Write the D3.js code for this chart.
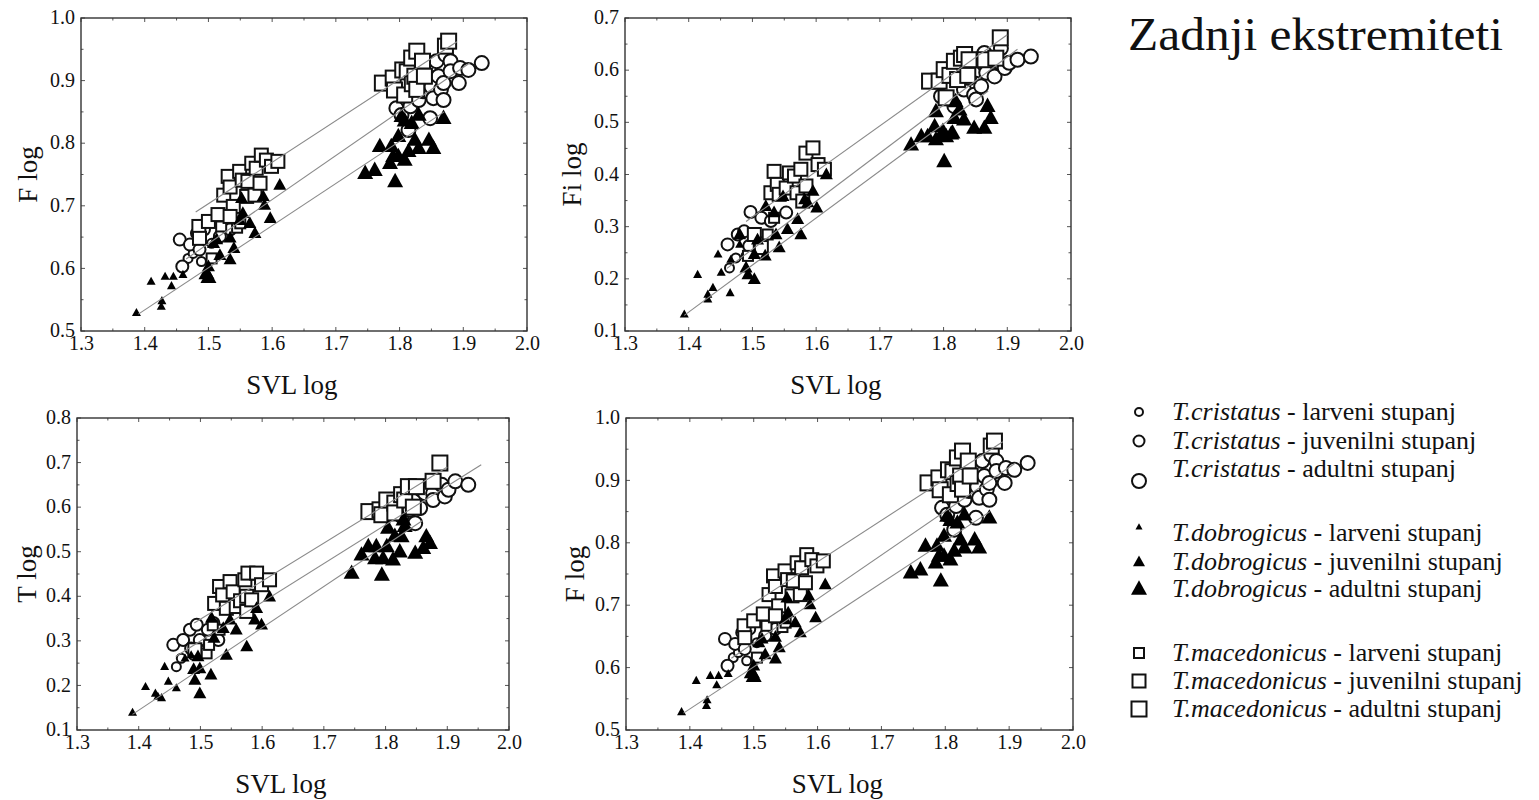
<!DOCTYPE html>
<html><head><meta charset="utf-8">
<script src="https://cdn.jsdelivr.net/npm/d3@7"></script>
<style>body{margin:0;background:#fff} svg{display:block}</style>
</head><body>
<script>
// ---------- DATA ----------
const xTicks = [1.3,1.4,1.5,1.6,1.7,1.8,1.9,2.0];
const F_yTicks = [0.5,0.6,0.7,0.8,0.9,1.0];
const Fi_yTicks = [0.1,0.2,0.3,0.4,0.5,0.6,0.7];
const T_yTicks = [0.1,0.2,0.3,0.4,0.5,0.6,0.7,0.8];

const species = ["T.cristatus","T.dobrogicus","T.macedonicus"];
const stages = ["larveni stupanj","juvenilni stupanj","adultni stupanj"];
const title = "Zadnji ekstremiteti";
const xLabel = "SVL log";

// F log (femur)
const F_cri_lar = [[1.468,0.616],[1.476,0.624],[1.489,0.611],[1.505,0.640]];
const F_cri_juv = [[1.455,0.646],[1.459,0.603],[1.471,0.638],[1.482,0.656],[1.486,0.630],[1.493,0.662],[1.518,0.651],[1.534,0.662],[1.544,0.683]];
const F_cri_adu = [[1.795,0.856],[1.803,0.845],[1.814,0.821],[1.817,0.859],[1.830,0.869],[1.837,0.883],[1.848,0.840],[1.850,0.890],[1.853,0.872],[1.858,0.931],[1.861,0.907],[1.865,0.886],[1.869,0.869],[1.869,0.896],[1.872,0.941],[1.880,0.931],[1.880,0.915],[1.893,0.896],[1.895,0.920],[1.908,0.917],[1.929,0.928]];
const F_dob_lar = [[1.387,0.529],[1.410,0.579],[1.426,0.539],[1.427,0.548],[1.432,0.587],[1.442,0.572],[1.445,0.587],[1.460,0.590]];
const F_dob_juv = [[1.500,0.603],[1.513,0.646],[1.508,0.640],[1.518,0.621],[1.534,0.614],[1.540,0.632],[1.534,0.649],[1.549,0.677],[1.554,0.688],[1.552,0.712],[1.565,0.672],[1.573,0.656],[1.586,0.715],[1.588,0.701],[1.597,0.680],[1.612,0.733]];
const F_dob_adu = [[1.497,0.592],[1.500,0.586],[1.746,0.752],[1.761,0.757],[1.769,0.795],[1.785,0.768],[1.787,0.795],[1.790,0.779],[1.793,0.739],[1.798,0.811],[1.798,0.779],[1.803,0.843],[1.808,0.773],[1.808,0.836],[1.814,0.787],[1.819,0.832],[1.824,0.805],[1.830,0.792],[1.830,0.845],[1.846,0.805],[1.853,0.792],[1.869,0.840]];
const F_mac_lar = [[1.505,0.616],[1.520,0.667],[1.545,0.665],[1.550,0.672]];
const F_mac_juv = [[1.485,0.667],[1.486,0.648],[1.500,0.675],[1.515,0.686],[1.524,0.717],[1.531,0.747],[1.534,0.730],[1.539,0.699],[1.534,0.683],[1.549,0.755],[1.553,0.741],[1.560,0.715],[1.562,0.739],[1.568,0.768],[1.575,0.760],[1.573,0.717],[1.581,0.736],[1.583,0.781],[1.591,0.773],[1.599,0.763],[1.609,0.771]];
const F_mac_adu = [[1.773,0.896],[1.790,0.904],[1.792,0.885],[1.805,0.917],[1.808,0.877],[1.812,0.914],[1.819,0.936],[1.820,0.895],[1.824,0.907],[1.827,0.947],[1.827,0.886],[1.836,0.931],[1.839,0.907],[1.872,0.955],[1.877,0.963]];
// regression lines [x1,y1,x2,y2]
const F_lines = {cri:[1.465,0.615,1.910,0.928], dob:[1.390,0.527,1.870,0.850], mac:[1.480,0.690,1.890,0.962]};

// Fi log (fibula)
const Fi_cri_lar = [[1.474,0.240],[1.490,0.244],[1.464,0.221],[1.500,0.255]];
const Fi_cri_juv = [[1.461,0.266],[1.477,0.285],[1.487,0.291],[1.495,0.263],[1.497,0.328],[1.514,0.317],[1.529,0.311],[1.553,0.327]];
const Fi_cri_adu = [[1.796,0.550],[1.817,0.531],[1.832,0.563],[1.840,0.585],[1.848,0.553],[1.851,0.544],[1.855,0.600],[1.859,0.569],[1.864,0.633],[1.864,0.611],[1.867,0.595],[1.880,0.588],[1.883,0.617],[1.890,0.642],[1.896,0.604],[1.903,0.614],[1.916,0.620],[1.937,0.626]];
const Fi_dob_lar = [[1.393,0.132],[1.414,0.208],[1.430,0.170],[1.430,0.161],[1.438,0.183],[1.446,0.247],[1.451,0.212],[1.465,0.173],[1.466,0.237],[1.480,0.266]];
const Fi_dob_juv = [[1.480,0.285],[1.490,0.221],[1.493,0.208],[1.503,0.199],[1.503,0.247],[1.508,0.275],[1.520,0.244],[1.521,0.339],[1.534,0.327],[1.537,0.285],[1.542,0.260],[1.548,0.358],[1.555,0.295],[1.571,0.314],[1.576,0.285],[1.582,0.352],[1.587,0.346],[1.595,0.368],[1.601,0.336],[1.616,0.400]];
const Fi_dob_adu = [[1.749,0.457],[1.765,0.473],[1.775,0.473],[1.786,0.492],[1.788,0.467],[1.788,0.521],[1.797,0.475],[1.799,0.483],[1.801,0.425],[1.804,0.473],[1.812,0.478],[1.814,0.480],[1.817,0.508],[1.819,0.540],[1.825,0.524],[1.832,0.505],[1.848,0.489],[1.864,0.489],[1.869,0.531],[1.874,0.508]];
const Fi_mac_lar = [[1.493,0.244],[1.510,0.270],[1.524,0.285],[1.534,0.317]];
const Fi_mac_juv = [[1.503,0.285],[1.514,0.260],[1.529,0.365],[1.534,0.406],[1.539,0.381],[1.542,0.362],[1.553,0.374],[1.558,0.403],[1.566,0.397],[1.576,0.410],[1.570,0.365],[1.579,0.349],[1.584,0.378],[1.584,0.441],[1.595,0.451],[1.603,0.419],[1.613,0.410]];
const Fi_mac_adu = [[1.778,0.579],[1.793,0.579],[1.801,0.601],[1.804,0.547],[1.810,0.590],[1.817,0.617],[1.822,0.582],[1.828,0.623],[1.833,0.630],[1.840,0.620],[1.838,0.590],[1.865,0.620],[1.882,0.623],[1.889,0.662]];
const Fi_lines = {cri:[1.460,0.220,1.916,0.640], dob:[1.393,0.130,1.870,0.560], mac:[1.490,0.310,1.900,0.668]};

// T log (tibia)
const T_cri_lar = [[1.469,0.261],[1.488,0.268],[1.461,0.242],[1.500,0.280]];
const T_cri_juv = [[1.456,0.291],[1.472,0.302],[1.483,0.325],[1.485,0.283],[1.494,0.336],[1.499,0.302],[1.512,0.325],[1.521,0.340],[1.529,0.302]];
const T_cri_adu = [[1.826,0.580],[1.839,0.594],[1.845,0.616],[1.848,0.564],[1.856,0.598],[1.858,0.639],[1.864,0.631],[1.877,0.631],[1.877,0.616],[1.891,0.650],[1.896,0.624],[1.902,0.639],[1.913,0.658],[1.934,0.650]];
const T_dob_lar = [[1.390,0.139],[1.411,0.197],[1.427,0.182],[1.431,0.175],[1.437,0.172],[1.442,0.242],[1.448,0.209],[1.461,0.194],[1.475,0.261],[1.485,0.268]];
const T_dob_juv = [[1.489,0.236],[1.491,0.212],[1.496,0.265],[1.499,0.238],[1.499,0.182],[1.517,0.224],[1.518,0.351],[1.522,0.306],[1.537,0.328],[1.542,0.268],[1.548,0.347],[1.558,0.325],[1.575,0.287],[1.588,0.347],[1.591,0.373],[1.599,0.336],[1.612,0.399]];
const T_dob_adu = [[1.745,0.452],[1.761,0.493],[1.772,0.512],[1.783,0.485],[1.785,0.512],[1.794,0.448],[1.796,0.485],[1.802,0.512],[1.804,0.553],[1.812,0.482],[1.815,0.535],[1.823,0.500],[1.826,0.534],[1.829,0.572],[1.831,0.557],[1.848,0.497],[1.861,0.508],[1.866,0.534],[1.872,0.519]];
const T_mac_lar = [[1.510,0.272],[1.514,0.291],[1.531,0.325],[1.520,0.335]];
const T_mac_juv = [[1.491,0.280],[1.523,0.384],[1.531,0.422],[1.536,0.403],[1.542,0.373],[1.548,0.433],[1.553,0.410],[1.558,0.377],[1.565,0.390],[1.572,0.437],[1.577,0.452],[1.575,0.400],[1.575,0.366],[1.583,0.392],[1.591,0.452],[1.599,0.426],[1.612,0.437]];
const T_mac_adu = [[1.773,0.590],[1.791,0.594],[1.794,0.583],[1.802,0.616],[1.815,0.609],[1.815,0.587],[1.826,0.628],[1.831,0.616],[1.837,0.646],[1.845,0.600],[1.850,0.646],[1.877,0.658],[1.888,0.699]];
const T_lines = {cri:[1.460,0.265,1.955,0.695], dob:[1.390,0.135,1.860,0.570], mac:[1.490,0.340,1.900,0.690]};

// ---------- BUILD ----------
const W = 1539, H = 800;
const FONT = "'Liberation Serif','Times New Roman',serif";
const svg = d3.select("body").append("svg").attr("width", W).attr("height", H)
  .style("font-family", FONT);

function series(cl, cj, ca, dl, dj, da, ml, mj, ma) {
  return [
    {sp:"cri", st:0, pts:cl},{sp:"cri", st:1, pts:cj},{sp:"cri", st:2, pts:ca},
    {sp:"mac", st:0, pts:ml},{sp:"mac", st:1, pts:mj},{sp:"mac", st:2, pts:ma},
    {sp:"dob", st:0, pts:dl},{sp:"dob", st:1, pts:dj},{sp:"dob", st:2, pts:da}
  ];
}
const F_series = series(F_cri_lar,F_cri_juv,F_cri_adu,F_dob_lar,F_dob_juv,F_dob_adu,F_mac_lar,F_mac_juv,F_mac_adu);
const Fi_series = series(Fi_cri_lar,Fi_cri_juv,Fi_cri_adu,Fi_dob_lar,Fi_dob_juv,Fi_dob_adu,Fi_mac_lar,Fi_mac_juv,Fi_mac_adu);
const T_series = series(T_cri_lar,T_cri_juv,T_cri_adu,T_dob_lar,T_dob_juv,T_dob_adu,T_mac_lar,T_mac_juv,T_mac_adu);

const panels = [
  {ylab:"F log",  yt:F_yTicks,  s:F_series,  L:F_lines,  l:81,  r:527,  t:18,  b:331, ylx:28,  xlb:394},
  {ylab:"Fi log", yt:Fi_yTicks, s:Fi_series, L:Fi_lines, l:625, r:1071, t:18,  b:331, ylx:572, xlb:394},
  {ylab:"T log",  yt:T_yTicks,  s:T_series,  L:T_lines,  l:77,  r:509,  t:418, b:730, ylx:27,  xlb:793},
  {ylab:"F log",  yt:F_yTicks,  s:F_series,  L:F_lines,  l:626, r:1073, t:418, b:730, ylx:575, xlb:793}
];

const circR = [4.5, 6, 7], triW = [9, 13, 16], sqS = [10, 13, 15];

function triPath(w) {
  const h = w * 0.9;
  return `M0,${-h*0.6}L${w/2},${h*0.4}L${-w/2},${h*0.4}Z`;
}

function marker(g, sp, st, cx, cy, sizes) {
  const [cr, tw, ss] = sizes;
  if (sp === "cri") {
    g.append("circle").attr("cx", cx).attr("cy", cy).attr("r", cr[st])
      .attr("fill", "#fff").attr("stroke", "#111").attr("stroke-width", 2);
  } else if (sp === "dob") {
    g.append("path").attr("d", triPath(tw[st])).attr("transform", `translate(${cx},${cy})`)
      .attr("fill", "#000");
  } else {
    const s = ss[st];
    g.append("rect").attr("x", cx - s/2).attr("y", cy - s/2).attr("width", s).attr("height", s)
      .attr("fill", "#fff").attr("stroke", "#111").attr("stroke-width", 2);
  }
}

panels.forEach(p => {
  const x = d3.scaleLinear().domain([1.3, 2.0]).range([p.l, p.r]);
  const y = d3.scaleLinear().domain([p.yt[0], p.yt[p.yt.length-1]]).range([p.b, p.t]);
  const g = svg.append("g");

  // inward ticks on all four sides (major + minor)
  const tk = g.append("g").attr("stroke", "#555").attr("stroke-width", 1);
  const xMinor = d3.range(0, 15).map(i => 1.3 + i * 0.05);
  xMinor.forEach((v, i) => {
    const len = i % 2 === 0 ? 4 : 2.5;
    tk.append("line").attr("x1", x(v)).attr("x2", x(v)).attr("y1", p.b).attr("y2", p.b - len);
    tk.append("line").attr("x1", x(v)).attr("x2", x(v)).attr("y1", p.t).attr("y2", p.t + len);
  });
  const y0 = p.yt[0], y1 = p.yt[p.yt.length-1];
  const nMin = Math.round((y1 - y0) / 0.05);
  for (let i = 0; i <= nMin; i++) {
    const v = y0 + i * 0.05, len = i % 2 === 0 ? 4 : 2.5;
    tk.append("line").attr("x1", p.l).attr("x2", p.l + len).attr("y1", y(v)).attr("y2", y(v));
    tk.append("line").attr("x1", p.r).attr("x2", p.r - len).attr("y1", y(v)).attr("y2", y(v));
  }

  // axes via d3 (labels only; the frame is drawn separately)
  const ax = g.append("g").attr("transform", `translate(0,${p.b})`)
    .call(d3.axisBottom(x).tickValues(xTicks).tickFormat(d3.format(".1f")).tickSize(0).tickPadding(0));
  ax.attr("font-size", null).attr("font-family", null);
  ax.select(".domain").remove();
  ax.selectAll("text").style("font-size", "20px").style("font-family", FONT)
    .attr("fill", "#111").attr("dy", null).attr("y", 19);
  const ay = g.append("g").attr("transform", `translate(${p.l},0)`)
    .call(d3.axisLeft(y).tickValues(p.yt).tickFormat(d3.format(".1f")).tickSize(0).tickPadding(6));
  ay.attr("font-size", null).attr("font-family", null);
  ay.select(".domain").remove();
  ay.selectAll("text").style("font-size", "20px").style("font-family", FONT)
    .attr("fill", "#111").attr("dy", "0.28em");

  // markers
  const mg = g.append("g");
  p.s.forEach(ser => ser.pts.forEach(d => marker(mg, ser.sp, ser.st, x(d[0]), y(d[1]), [circR, triW, sqS])));

  // regression lines
  ["mac","cri","dob"].forEach(k => {
    const L = p.L[k];
    g.append("line").attr("x1", x(L[0])).attr("y1", y(L[1])).attr("x2", x(L[2])).attr("y2", y(L[3]))
      .attr("stroke", "#8a8a8a").attr("stroke-width", 1.1);
  });

  // frame
  g.append("rect").attr("x", p.l).attr("y", p.t).attr("width", p.r - p.l).attr("height", p.b - p.t)
    .attr("fill", "none").attr("stroke", "#333").attr("stroke-width", 1.4);

  // axis titles
  g.append("text").attr("x", (p.l + p.r) / 2 - 12).attr("y", p.xlb).attr("text-anchor", "middle")
    .attr("font-size", 27).attr("fill", "#111").text(xLabel);
  g.append("text").attr("transform", `translate(${p.ylx + 9},${(p.t + p.b) / 2}) rotate(-90)`)
    .attr("text-anchor", "middle").attr("font-size", 27).attr("fill", "#111").text(p.ylab);
});

// title
svg.append("text").attr("x", 1128).attr("y", 50).attr("font-size", 46)
  .attr("textLength", 375).attr("lengthAdjust", "spacingAndGlyphs")
  .attr("fill", "#111").text(title);

// legend
const legSp = ["cri","dob","mac"];
const legBase = [[420,449,477],[541,570,597],[661,689,717]];
const legCirc = [4, 5.5, 7], legTri = [7, 12, 16], legSq = [10, 13, 15];
const lg = svg.append("g");
legSp.forEach((sp, i) => {
  stages.forEach((st, j) => {
    const by = legBase[i][j];
    let my = by - 8;
    if (sp === "cri" && j === 2) my = by + 4;
    if (sp === "dob" && j === 0) my = by - 14;
    marker(lg, sp, j, 1139, my, [legCirc, legTri, legSq]);
    const t = lg.append("text").attr("x", 1172).attr("y", by).attr("font-size", 26).attr("fill", "#111");
    t.append("tspan").attr("font-style", "italic").text(species[i]);
    t.append("tspan").text(" - " + st);
  });
});
</script>
</body></html>
